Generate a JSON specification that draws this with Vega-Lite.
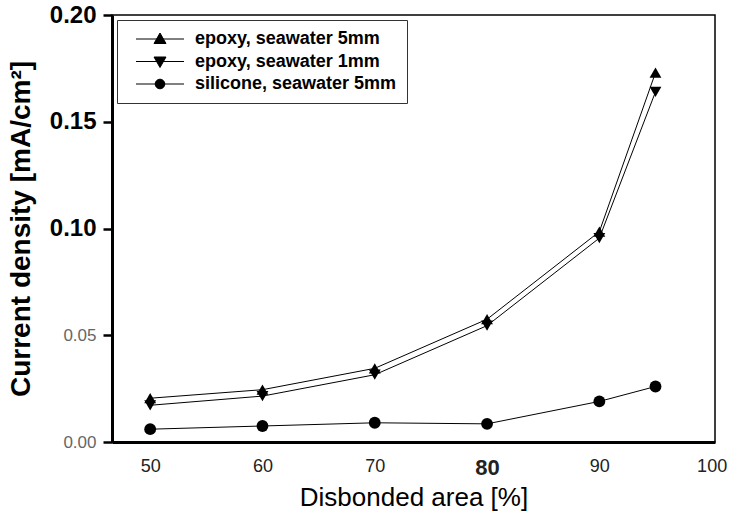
{
  "$schema": "https://vega.github.io/schema/vega-lite/v6.json",
  "width": 603,
  "height": 427,
  "autosize": {"type": "none"},
  "padding": {"left": 112, "top": 15, "right": 23, "bottom": 77},
  "background": "white",
  "config": {
    "view": {"stroke": "black", "strokeWidth": 1.5},
    "font": "Liberation Sans"
  },
  "data": {
    "values": [
      {"area": 50, "j": 0.0205, "series": "epoxy, seawater 5mm"},
      {"area": 60, "j": 0.0245, "series": "epoxy, seawater 5mm"},
      {"area": 70, "j": 0.0345, "series": "epoxy, seawater 5mm"},
      {"area": 80, "j": 0.0575, "series": "epoxy, seawater 5mm"},
      {"area": 90, "j": 0.0985, "series": "epoxy, seawater 5mm"},
      {"area": 95, "j": 0.173, "series": "epoxy, seawater 5mm"},
      {"area": 50, "j": 0.0172, "series": "epoxy, seawater 1mm"},
      {"area": 60, "j": 0.0215, "series": "epoxy, seawater 1mm"},
      {"area": 70, "j": 0.0315, "series": "epoxy, seawater 1mm"},
      {"area": 80, "j": 0.0545, "series": "epoxy, seawater 1mm"},
      {"area": 90, "j": 0.0955, "series": "epoxy, seawater 1mm"},
      {"area": 95, "j": 0.164, "series": "epoxy, seawater 1mm"},
      {"area": 50, "j": 0.006, "series": "silicone, seawater 5mm"},
      {"area": 60, "j": 0.0075, "series": "silicone, seawater 5mm"},
      {"area": 70, "j": 0.009, "series": "silicone, seawater 5mm"},
      {"area": 80, "j": 0.0085, "series": "silicone, seawater 5mm"},
      {"area": 90, "j": 0.019, "series": "silicone, seawater 5mm"},
      {"area": 95, "j": 0.026, "series": "silicone, seawater 5mm"}
    ]
  },
  "encoding": {
    "x": {
      "field": "area",
      "type": "quantitative",
      "scale": {"domain": [46.6, 100.3], "nice": false, "zero": false},
      "axis": {
        "values": [50, 60, 70, 80, 90, 100],
        "title": "Disbonded area [%]",
        "titleFont": "Liberation Sans",
        "titleFontSize": 26,
        "titleFontWeight": "normal",
        "titleColor": "black",
        "titlePadding": 6,
        "domainColor": "black",
        "domainWidth": 3,
        "ticks": false,
        "grid": false,
        "labelPadding": 15,
        "labelColor": "#222",
        "labelFontSize": {"condition": {"test": "datum.value == 80", "value": 22}, "value": 18},
        "labelFontWeight": {"condition": {"test": "datum.value == 80", "value": "bold"}, "value": "normal"},
        "labelFlush": false
      }
    },
    "y": {
      "field": "j",
      "type": "quantitative",
      "scale": {"domain": [0, 0.2], "nice": false},
      "axis": {
        "values": [0, 0.05, 0.1, 0.15, 0.2],
        "format": ".2f",
        "title": "Current density [mA/cm²]",
        "titleFont": "Liberation Sans",
        "titleFontSize": 28,
        "titleFontWeight": "bold",
        "titleColor": "black",
        "titlePadding": 14,
        "domainColor": "black",
        "domainWidth": 3,
        "tickColor": "black",
        "tickWidth": 2.5,
        "tickSize": 9,
        "grid": false,
        "labelPadding": 7,
        "labelFlush": false,
        "labelColor": {"condition": {"test": "datum.value >= 0.1", "value": "black"}, "value": "#666"},
        "labelFontSize": {"condition": {"test": "datum.value >= 0.1", "value": 24}, "value": 17},
        "labelFontWeight": {"condition": {"test": "datum.value >= 0.1", "value": "bold"}, "value": "normal"}
      }
    }
  },
  "layer": [
    {
      "mark": {"type": "line", "color": "black", "strokeWidth": 1},
      "encoding": {"detail": {"field": "series"}}
    },
    {
      "mark": {"type": "point", "filled": true, "color": "black", "opacity": 1, "size": 140},
      "encoding": {
        "shape": {
          "field": "series",
          "type": "nominal",
          "scale": {
            "domain": ["epoxy, seawater 5mm", "epoxy, seawater 1mm", "silicone, seawater 5mm"],
            "range": ["triangle-up", "triangle-down", "circle"]
          },
          "legend": null
        }
      }
    },
    {
      "transform": [{"filter": "false"}],
      "mark": {"type": "point", "filled": false, "color": "black", "fill": "black", "stroke": "black", "strokeWidth": 1, "opacity": 1, "fillOpacity": 1, "size": 144},
      "encoding": {
        "shape": {
          "field": "series",
          "type": "nominal",
          "scale": {
            "domain": ["epoxy, seawater 5mm", "epoxy, seawater 1mm", "silicone, seawater 5mm"],
            "range": [
              "M-4,0H4M0,-1L1,0.75L-1,0.75Z",
              "M-4,0H4M0,1L1,-0.75L-1,-0.75Z",
              "M-4,0H4M0.8,0A0.8,0.8,0,1,1,-0.8,0A0.8,0.8,0,1,1,0.8,0Z"
            ]
          },
          "legend": {
            "title": null,
            "orient": "top-left",
            "offset": 5,
            "padding": 10,
            "strokeColor": "#333",
            "fillColor": "white",
            "labelFont": "Liberation Sans",
            "labelFontWeight": "bold",
            "labelFontSize": 18,
            "labelColor": "black",
            "labelLimit": 0,
            "symbolSize": 144,
            "symbolOffset": 24,
            "labelOffset": 26,
            "rowPadding": 4.5,
            "symbolStrokeWidth": 1,
            "symbolOpacity": 1
          }
        }
      }
    },
    {
      "data": {"values": [{}]},
      "mark": {"type": "rule", "color": "black", "strokeWidth": 3},
      "encoding": {"y": {"datum": 0.2}, "x": null}
    }
  ],
  "resolve": {"scale": {"shape": "independent"}, "legend": {"shape": "independent"}}
}
